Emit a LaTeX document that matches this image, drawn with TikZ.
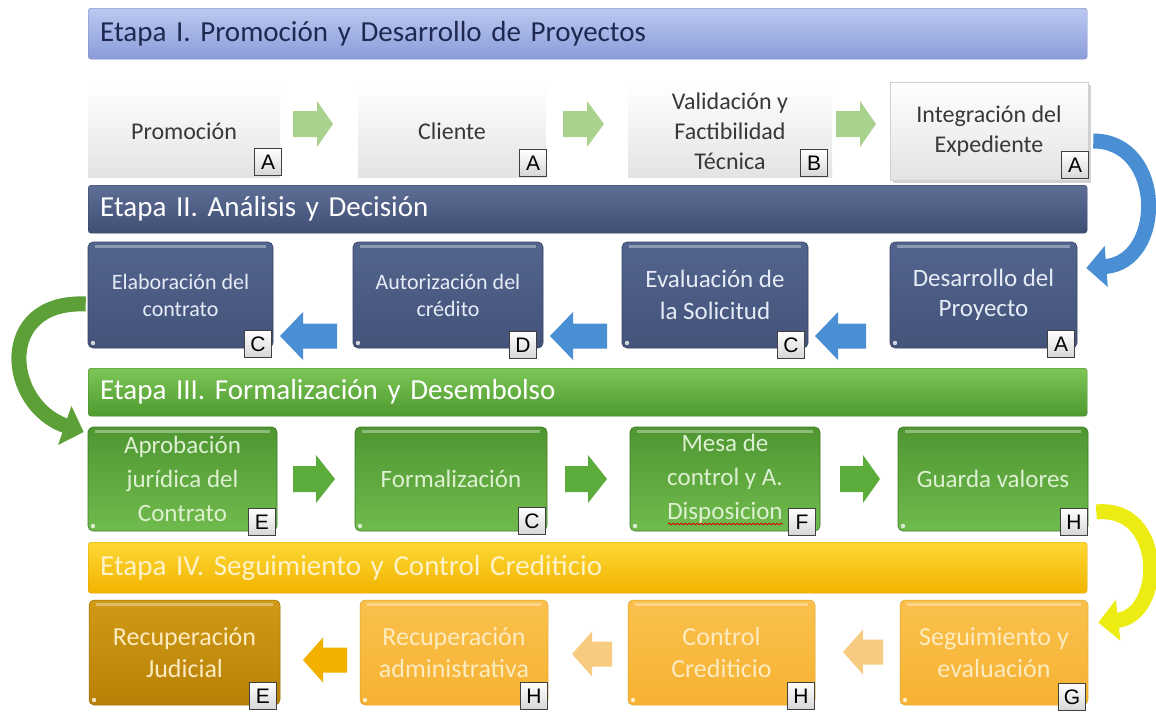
\documentclass[tikz,border=0pt]{standalone}
\usepackage{fontspec}
\setmainfont{Carlito}
\newfontfamily\tagfont{Liberation Sans}
\usetikzlibrary{arrows.meta,shadows,decorations.pathmorphing}
\definecolor{b1top}{HTML}{BCC8F0}
\definecolor{b1bot}{HTML}{8A9CDA}
\definecolor{b1txt}{HTML}{1E2850}
\definecolor{b2top}{HTML}{5E6E95}
\definecolor{b2bot}{HTML}{3F4E75}
\definecolor{b3top}{HTML}{7EC657}
\definecolor{b3bot}{HTML}{4E9A2F}
\definecolor{b4top}{HTML}{FDD835}
\definecolor{b4bot}{HTML}{F2B300}
\definecolor{b4txt}{HTML}{FFF2C8}
\definecolor{bxIItop}{HTML}{53648E}
\definecolor{bxIIbot}{HTML}{43537A}
\definecolor{txII}{HTML}{E6ECF6}
\definecolor{bxIIItop}{HTML}{4F9631}
\definecolor{bxIIIbot}{HTML}{70BB4D}
\definecolor{txIII}{HTML}{DDF0D2}
\definecolor{bxIVatop}{HTML}{D09A16}
\definecolor{bxIVabot}{HTML}{B88106}
\definecolor{bxIVtop}{HTML}{FAC14C}
\definecolor{bxIVbot}{HTML}{F6B232}
\definecolor{txIV}{HTML}{FDEBC2}
\definecolor{arI}{HTML}{AAD28F}
\definecolor{arII}{HTML}{4A8FD3}
\definecolor{arIII}{HTML}{5CAC3B}
\definecolor{arIVa}{HTML}{F2B100}
\definecolor{arIVb}{HTML}{F8CC80}
\definecolor{cblue}{HTML}{4A8FD3}
\definecolor{cgreen}{HTML}{5DA038}
\definecolor{cyellow}{HTML}{ECEC12}
\newcommand\blockarr[7]{\fill[#1] (#2,#5-#6) -- (#3,#5-#6) -- (#3,#5-#7) -- (#4,#5) -- (#3,#5+#7) -- (#3,#5+#6) -- (#2,#5+#6) -- cycle;}
\begin{document}
\begin{tikzpicture}[x=1pt,y=-1pt,
  banner/.style={rounded corners=3pt, anchor=north west, minimum height=51pt,
    text width=975pt, inner xsep=12pt, inner ysep=0pt, align=left,
    font=\fontsize{29}{34}\selectfont},
  boxI/.style={top color=white, bottom color=black!11, inner sep=2pt, align=center,
    text=black!78, font=\fontsize{24}{30}\selectfont},
  deco/.style={path picture={
    \draw[white, opacity=.35, line width=3pt] ([shift={(7pt,-4pt)}]path picture bounding box.north west) -- ([shift={(-7pt,-4pt)}]path picture bounding box.north east);
    \fill[white, opacity=.75] ([shift={(5pt,5pt)}]path picture bounding box.south west) circle (2.2pt);}},
  boxII/.style={deco, rounded corners=5pt, top color=bxIItop, bottom color=bxIIbot,
    draw=bxIIbot!80!black, line width=.6pt, align=center, text=txII, minimum height=106pt},
  boxIII/.style={deco, rounded corners=5pt, top color=bxIIItop, bottom color=bxIIIbot,
    draw=bxIIItop!80!black, line width=.6pt, align=center, text=txIII, minimum height=104pt,
    font=\fontsize{25}{34}\selectfont},
  boxIV/.style={deco, rounded corners=5pt, top color=bxIVtop, bottom color=bxIVbot,
    draw=bxIVbot!90!black, line width=.5pt, align=center, text=txIV, minimum height=105pt,
    font=\fontsize{26}{32}\selectfont},
  tagbox/.style={draw=black!75, line width=.6pt, top color=white, bottom color=black!16,
    minimum width=27pt, minimum height=27pt, inner sep=0pt, text=black,
    font=\tagfont\fontsize{21}{21}\selectfont},
  curvarr/.style={line width=15pt, -{Triangle[length=20pt,width=40pt]}}
]
\useasboundingbox (0,0) rectangle (1156,715);
\fill[white] (0,0) rectangle (1156,715);

% ---------- banners ----------
\node[banner, top color=b1top, bottom color=b1bot, text=b1txt, draw=b1bot!85!black, line width=.4pt] (e1) at (88,8) {Etapa I. Promoción y Desarrollo de Proyectos};
\node[banner, top color=b2top, bottom color=b2bot, text=white, draw=b2bot!85!black, line width=.4pt, minimum height=48pt] (e2) at (88,185) {Etapa II. Análisis y Decisión};
\node[banner, top color=b3top, bottom color=b3bot, text=white, draw=b3bot!85!black, line width=.4pt, minimum height=48pt] (e3) at (88,368) {Etapa III. Formalización y Desembolso};
\node[banner, top color=b4top, bottom color=b4bot, text=b4txt, draw=b4bot!90!black, line width=.4pt, minimum height=51pt] (e4) at (88,542) {Etapa IV. Seguimiento y Control Crediticio};

% ---------- row I ----------
\node[boxI, minimum width=192pt, minimum height=92pt] (pro) at (184,131) {Promoción};
\node[boxI, minimum width=188pt, minimum height=92pt] (cli) at (452,131) {Cliente};
\node[boxI, minimum width=204pt, minimum height=92pt] (val) at (730,131) {Validación y\\Factibilidad\\Técnica};
\node[boxI, minimum width=198pt, minimum height=98pt, draw=black!18, line width=.6pt,
  drop shadow={shadow xshift=3pt, shadow yshift=-3pt, opacity=.35}] (int) at (989,131) {Integración del\\Expediente};
\node[tagbox] (t11) at (268,162) {A};
\node[tagbox] (t12) at (533,163) {A};
\node[tagbox] (t13) at (814,163) {B};
\node[tagbox] (t14) at (1075,165) {A};
\blockarr{arI}{293}{317}{333}{124}{13}{23}
\blockarr{arI}{563}{587}{604}{124}{13}{23}
\blockarr{arI}{836}{860}{876}{124}{13}{23}

% ---------- row II ----------
\node[boxII, minimum width=185pt, font=\fontsize{22}{27}\selectfont] (ela) at (180.5,295) {Elaboración del\\contrato};
\node[boxII, minimum width=190pt, font=\fontsize{22}{27}\selectfont] (aut) at (448,295) {Autorización del\\crédito};
\node[boxII, minimum width=186pt, font=\fontsize{25}{32}\selectfont] (eva) at (715,295) {Evaluación de\\la Solicitud};
\node[boxII, minimum width=187pt, font=\fontsize{25}{30}\selectfont] (des) at (983.5,295) {Desarrollo del\\Proyecto};
\node[tagbox] (t21) at (258,344) {C};
\node[tagbox] (t22) at (523,345) {D};
\node[tagbox] (t23) at (791,345) {C};
\node[tagbox] (t24) at (1061,344) {A};
\blockarr{arII}{337}{303}{280}{336}{12.5}{24}
\blockarr{arII}{607}{573}{550}{336}{12.5}{24}
\blockarr{arII}{866}{838}{815}{336}{12.5}{24}

% ---------- row III ----------
\node[boxIII, minimum width=189pt] (apr) at (182.5,479) {Aprobación\\jurídica del\\Contrato};
\node[boxIII, minimum width=192pt] (for) at (451,479) {Formalización};
\node[boxIII, minimum width=190pt] (mes) at (725,479) {Mesa de\\control y A.\\Disposicion};
\node[boxIII, minimum width=190pt] (gua) at (993,479) {Guarda valores};
\draw[red!85!black, line width=.8pt, decorate, decoration={snake, amplitude=.9pt, segment length=4pt}] (668,524) -- (783,524);
\node[tagbox] (t31) at (262,522) {E};
\node[tagbox] (t32) at (532,521) {C};
\node[tagbox] (t33) at (802,522) {F};
\node[tagbox] (t34) at (1074,522) {H};
\blockarr{arIII}{293}{316}{335}{479}{13}{24}
\blockarr{arIII}{565}{588}{607}{479}{13}{24}
\blockarr{arIII}{840}{863}{880}{479}{13}{24}

% ---------- row IV ----------
\node[boxIV, top color=bxIVatop, bottom color=bxIVabot, draw=bxIVabot!85!black, minimum width=191pt] (rej) at (184.5,652.5) {Recuperación\\Judicial};
\node[boxIV, minimum width=188pt] (rad) at (454,652.5) {Recuperación\\administrativa};
\node[boxIV, minimum width=187pt] (con) at (721.5,652.5) {Control\\Crediticio};
\node[boxIV, minimum width=188pt] (seg) at (994,652.5) {Seguimiento y\\evaluación};
\node[tagbox] (t41) at (263,696) {E};
\node[tagbox] (t42) at (534,696) {H};
\node[tagbox] (t43) at (801,696) {H};
\node[tagbox] (t44) at (1072,697) {G};
\blockarr{arIVa}{347}{323}{303}{660}{12.5}{22.5}
\blockarr{arIVb}{612}{592}{572}{654}{12.5}{22.5}
\blockarr{arIVb}{883}{863}{843}{652}{12.5}{22.5}

% ---------- curved connectors ----------
\draw[curvarr, draw=cblue] ([shift={(5,10)}]int.east) .. controls (1165,141) and (1165,262) .. ([shift={(9,-27)}]des.east);
\draw[curvarr, draw=cgreen] ([shift={(-2,9)}]ela.west) .. controls (-5,300) and (5,405) .. ([shift={(-4,-47)}]apr.west);
\draw[curvarr, draw=cyellow] ([shift={(8,33)}]gua.east) .. controls (1165,505) and (1165,615) .. ([shift={(10,-30)}]seg.east);
\end{tikzpicture}
\end{document}
